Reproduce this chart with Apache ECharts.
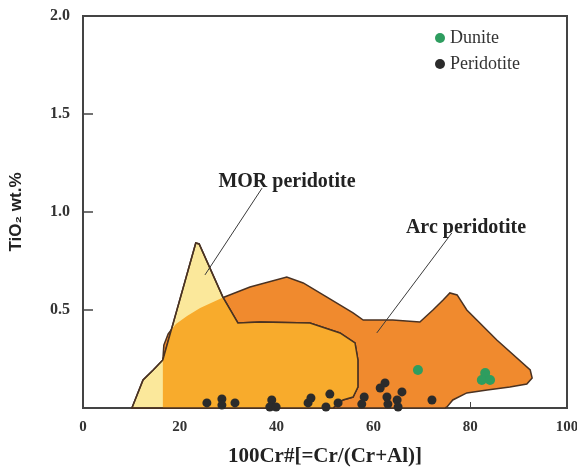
<!DOCTYPE html>
<html>
<head>
<meta charset="utf-8">
<script src="https://cdn.jsdelivr.net/npm/echarts@6/dist/echarts.min.js"></script>
<style>
  html, body { margin: 0; padding: 0; background: #fff; }
  #chart { width: 577px; height: 469px; }
</style>
</head>
<body>
<div id="chart"></div>
<script>
// fields (Cr#, TiO2)
const morField = [
  [10.1, 0], [12.4, 0.143], [14.5, 0.194], [16.5, 0.245], [23.3, 0.842], [24.0, 0.837],
  [28.9, 0.566], [32.0, 0.434], [36.6, 0.439], [46.9, 0.434], [53.1, 0.383], [56.2, 0.332],
  [56.8, 0.245], [56.8, 0.107], [55.8, 0.056], [53.7, 0.041], [52.3, 0.015], [51.7, 0]
];
const arcField = [
  [16.5, 0], [16.5, 0.245], [16.7, 0.321], [17.6, 0.378], [19.2, 0.429], [21.5, 0.469],
  [24.2, 0.510], [28.7, 0.561], [34.5, 0.617], [42.1, 0.668], [45.5, 0.638], [50.4, 0.566],
  [55.8, 0.485], [57.9, 0.449], [64.0, 0.449], [69.6, 0.439], [72.3, 0.500], [74.4, 0.551],
  [75.8, 0.587], [77.3, 0.577], [79.3, 0.500], [85.5, 0.347], [92.4, 0.194], [92.8, 0.153],
  [91.7, 0.122], [88.2, 0.107], [83.5, 0.092], [79.3, 0.077], [76.4, 0.041], [75.2, 0.005], [74.8, 0]
];
const overlapField = [
  [16.5, 0], [16.5, 0.245], [18.24, 0.398], [19.2, 0.429], [21.5, 0.469], [24.2, 0.510],
  [28.8, 0.562], [32.0, 0.434], [36.6, 0.439], [46.9, 0.434], [53.1, 0.383], [56.2, 0.332],
  [56.8, 0.245], [56.8, 0.107], [55.8, 0.056], [53.7, 0.041], [52.3, 0.015], [51.7, 0]
];

const dunite = [[69.2, 0.194], [83.1, 0.179], [82.4, 0.143], [84.1, 0.143]];
const peridotite = [
  [25.6, 0.026], [28.7, 0.046], [28.7, 0.015], [31.4, 0.026], [39.0, 0.041], [38.6, 0.005],
  [39.9, 0.005], [46.5, 0.026], [47.1, 0.051], [50.2, 0.005], [51.0, 0.071], [52.7, 0.026],
  [58.1, 0.056], [57.6, 0.020], [61.4, 0.102], [62.4, 0.128], [62.8, 0.056], [63.0, 0.020],
  [64.9, 0.041], [65.1, 0.005], [65.9, 0.082], [72.1, 0.041]
];

// leader lines from labels to fields
const morLeader = [[37.0, 1.122], [25.2, 0.679]];
const arcLeader = [[76.2, 0.893], [60.7, 0.383]];

const serif = '"Liberation Serif", "Times New Roman", serif';
const edge = '#4a3222';

function polygonSeries(name, pts, fill, stroke, z) {
    return {
        name: name,
        type: 'custom',
        z: z,
        silent: true,
        data: [0],
        renderItem: function (params, api) {
            return {
                type: 'polygon',
                shape: {points: pts.map(p => api.coord(p))},
                style: {fill: fill, stroke: stroke, lineWidth: 1.5}
            };
        }
    };
}

const chart = echarts.init(document.getElementById('chart'));
chart.setOption({
    animation: false,
    grid: {
        left: 83, right: 10, top: 16, bottom: 61,
        containLabel: false, outerBoundsMode: 'none',
        show: true, borderColor: '#444', borderWidth: 2
    },
    legend: {
        data: ['Dunite', 'Peridotite'],
        orient: 'vertical',
        left: 430,
        top: 24,
        itemWidth: 10,
        itemHeight: 10,
        itemGap: 8,
        textStyle: {fontFamily: serif, fontSize: 18, color: '#333'}
    },
    xAxis: {
        type: 'value', min: 0, max: 100, interval: 20,
        name: '100Cr#[=Cr/(Cr+Al)]', nameLocation: 'middle', nameGap: 38,
        nameTextStyle: {fontFamily: serif, fontWeight: 'bold', fontSize: 21, color: '#222'},
        axisLine: {lineStyle: {color: '#444', width: 2}},
        axisTick: {inside: true, length: 6, lineStyle: {color: '#444'}},
        axisLabel: {fontFamily: serif, fontWeight: 'bold', fontSize: 15, color: '#333', margin: 12},
        splitLine: {show: false}
    },
    yAxis: {
        type: 'value', min: 0, max: 2, interval: 0.5,
        name: 'TiO₂ wt.%', nameLocation: 'middle', nameGap: 58,
        nameTextStyle: {fontFamily: '"Liberation Sans", Arial, "DejaVu Sans", sans-serif', fontWeight: 'bold', fontSize: 17, color: '#222'},
        axisLine: {lineStyle: {color: '#444', width: 2}},
        axisTick: {inside: true, length: 10, lineStyle: {color: '#444', width: 1.5}},
        axisLabel: {
            fontFamily: serif, fontWeight: 'bold', fontSize: 16, color: '#333', margin: 13,
            showMinLabel: false,
            formatter: v => v.toFixed(1)
        },
        splitLine: {show: false}
    },
    graphic: [
        {type: 'text', x: 287, y: 182, z: 100,
         style: {text: 'MOR peridotite', font: 'bold 20px ' + serif, fill: '#222', align: 'center', verticalAlign: 'middle'}},
        {type: 'text', x: 466, y: 228, z: 100,
         style: {text: 'Arc peridotite', font: 'bold 20px ' + serif, fill: '#222', align: 'center', verticalAlign: 'middle'}}
    ],
    series: [
        polygonSeries('arc', arcField, '#f08a2e', edge, 1),
        polygonSeries('mor', morField, '#fbe89b', edge, 2),
        polygonSeries('overlap', overlapField, '#f8ab2c', null, 3),
        polygonSeries('morEdge', morField, null, edge, 4),
        {
            type: 'lines',
            coordinateSystem: 'cartesian2d',
            z: 5,
            silent: true,
            lineStyle: {color: '#3a3a3a', width: 1, opacity: 1},
            data: [{coords: morLeader}, {coords: arcLeader}]
        },
        {
            name: 'Dunite', type: 'scatter', z: 6, symbolSize: 10,
            itemStyle: {color: '#2e9d5f', opacity: 1},
            data: dunite
        },
        {
            name: 'Peridotite', type: 'scatter', z: 6, symbolSize: 9,
            itemStyle: {color: '#2b2b2b', opacity: 1},
            data: peridotite
        }
    ]
});
</script>
</body>
</html>
